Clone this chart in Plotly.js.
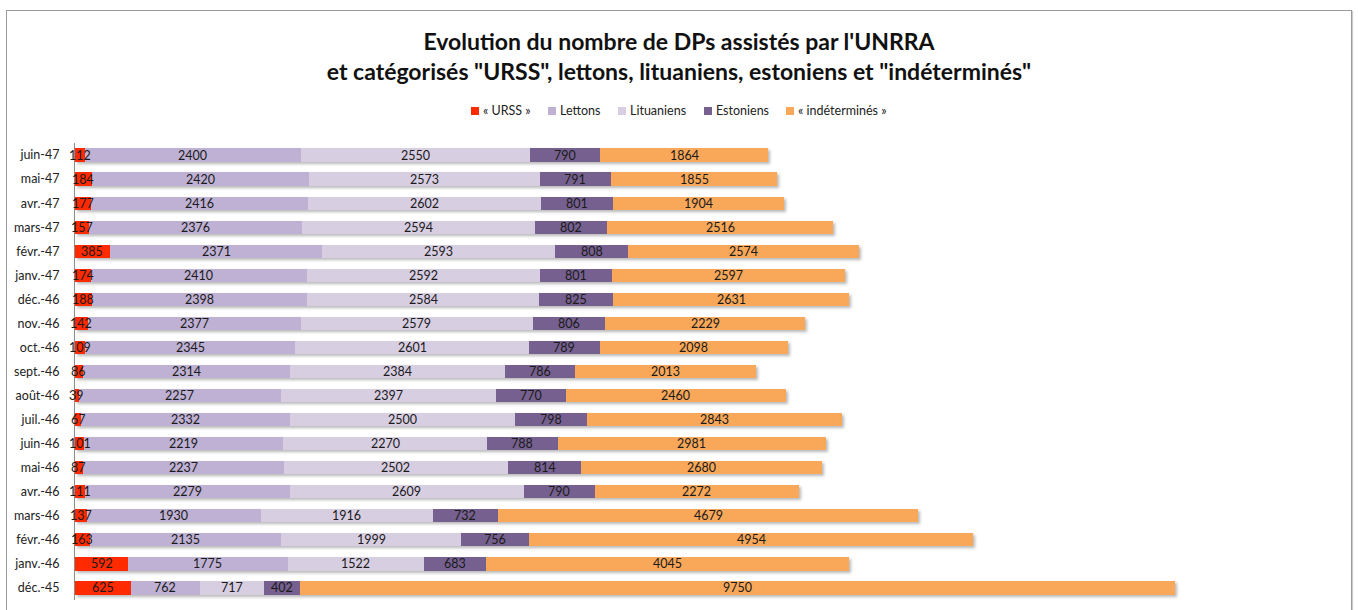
<!DOCTYPE html>
<html>
<head>
<meta charset="utf-8">
<script src="https://cdn.plot.ly/plotly-3.0.1.min.js"></script>
<style>
html,body{margin:0;padding:0;background:#fff;}
#wrap{position:relative;width:1358px;height:610px;overflow:hidden;}
#chart{width:1358px;height:610px;}
#frame{position:absolute;left:6px;top:10px;width:1344px;height:640px;border:1px solid #9a9a9a;box-shadow:1px 1px 1px #ccc;pointer-events:none;}
#chart .barlayer{filter:drop-shadow(2px 2px 1.5px rgba(0,0,0,0.28));}
</style>
</head>
<body>
<div id="wrap"><div id="chart"></div><div id="frame"></div></div>
<script>
const months = ["déc.-45","janv.-46","févr.-46","mars-46","avr.-46","mai-46","juin-46","juil.-46","août-46","sept.-46","oct.-46","nov.-46","déc.-46","janv.-47","févr.-47","mars-47","avr.-47","mai-47","juin-47"];
const urss = [625,592,163,137,111,87,101,67,39,86,109,142,188,174,385,157,177,184,112];
const lettons = [762,1775,2135,1930,2279,2237,2219,2332,2257,2314,2345,2377,2398,2410,2371,2376,2416,2420,2400];
const lituaniens = [717,1522,1999,1916,2609,2502,2270,2500,2397,2384,2601,2579,2584,2592,2593,2594,2602,2573,2550];
const estoniens = [402,683,756,732,790,814,788,798,770,786,789,806,825,801,808,802,801,791,790];
const indetermines = [9750,4045,4954,4679,2272,2680,2981,2843,2460,2013,2098,2229,2631,2597,2574,2516,1904,1855,1864];

const seriesNames = ["« URSS »","Lettons","Lituaniens","Estoniens","« indéterminés »"];
const seriesValues = [urss,lettons,lituaniens,estoniens,indetermines];
const seriesColors = ["#ff2a00","#bfb1d3","#d8cee2","#76608f","#f9a85a"];

const FONT = "Lato, 'Open Sans', sans-serif";

// plot-area geometry (pixels) used to place legend items in paper coords
const PL = 75, PR = 26, PT = 143, PB = 10, W = 1358, H = 610;
const PW = W - PL - PR, PH = H - PT - PB;
const px2x = p => (p - PL) / PW;
const py2y = p => (H - PB - p) / PH;

const traces = seriesNames.map((n,i)=>({
  type:"bar",
  orientation:"h",
  name:n,
  y:months,
  x:seriesValues[i],
  marker:{color:seriesColors[i],line:{width:0}},
  hoverinfo:"skip",
  showlegend:false
}));

// data labels, centred on each stacked segment
const annotations = [];
months.forEach((m,j)=>{
  let start = 0;
  seriesValues.forEach(vals=>{
    const v = vals[j];
    annotations.push({
      x:start + v/2, y:m, xref:"x", yref:"y",
      text:String(v), showarrow:false,
      xanchor:"center", yanchor:"middle",
      font:{family:FONT,size:12.5,color:"#1a1a1a"}
    });
    start += v;
  });
});

// custom legend (marker squares + labels)
const legendMarkerX = [471,548,618,704,786];
const legendY = 111;
const shapes = [];
seriesNames.forEach((n,i)=>{
  shapes.push({
    type:"rect", xref:"paper", yref:"paper",
    x0:px2x(legendMarkerX[i]), x1:px2x(legendMarkerX[i]+8),
    y0:py2y(legendY+4), y1:py2y(legendY-4),
    fillcolor:seriesColors[i], line:{width:0}
  });
  annotations.push({
    xref:"paper", yref:"paper",
    x:px2x(legendMarkerX[i]+10), y:py2y(legendY),
    xanchor:"left", yanchor:"middle", showarrow:false,
    text:n, font:{family:FONT,size:12.5,color:"#222"}
  });
});

const layout = {
  width:W,height:H,
  margin:{l:PL,r:PR,t:PT,b:PB},
  paper_bgcolor:"#fff",plot_bgcolor:"#fff",
  barmode:"stack",
  bargap:0.45,
  font:{family:FONT,color:"#222"},
  title:{
    text:"<b>Evolution du nombre de DPs assistés par l'UNRRA<br>et catégorisés \"URSS\", lettons, lituaniens, estoniens et \"indéterminés\"</b>",
    font:{family:FONT,size:23,color:"#111"},
    xref:"container",x:0.5,xanchor:"center",
    yref:"container",y:0.918,yanchor:"middle"
  },
  showlegend:false,
  xaxis:{range:[0,14000],visible:false,fixedrange:true},
  yaxis:{
    type:"category",
    categoryorder:"array",categoryarray:months,
    showline:true,linecolor:"#8c8c8c",linewidth:1,
    showgrid:false,zeroline:false,
    ticks:"",
    ticklabelstandoff:12,
    tickfont:{family:FONT,size:12.5,color:"#222"},
    fixedrange:true
  },
  shapes:shapes,
  annotations:annotations
};

Plotly.newPlot("chart",traces,layout,{displayModeBar:false,staticPlot:true});
</script>
</body>
</html>
